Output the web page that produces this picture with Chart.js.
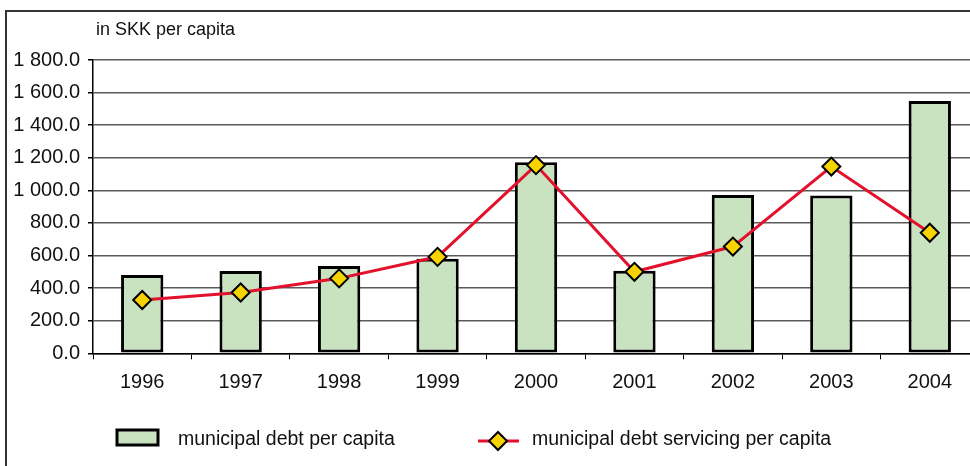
<!DOCTYPE html>
<html>
<head>
<meta charset="utf-8">
<script src="https://cdn.jsdelivr.net/npm/chart.js@4.4.1/dist/chart.umd.min.js"></script>
<style>
  html, body { margin: 0; padding: 0; background: #fff; overflow: hidden; }
  #wrap { width: 970px; height: 466px; overflow: hidden; position: relative; }
  canvas { display: block; }
</style>
</head>
<body>
<div id="wrap"><canvas id="chart" width="990" height="466"></canvas></div>
<script>
const years = ["1996", "1997", "1998", "1999", "2000", "2001", "2002", "2003", "2004"];
const debtPerCapita = [480, 505, 536, 580, 1172, 507, 971, 968, 1548];
const servicingPerCapita = [327, 373, 460, 592, 1155, 500, 655, 1146, 740];
const yTicks = [0, 200, 400, 600, 800, 1000, 1200, 1400, 1600, 1800];

const unitLabel = "in SKK per capita";
const FONT = "'Liberation Sans', Arial, sans-serif";
const BAR_FILL = "#c9e3c1";
const LINE_RED = "#e4112c";
const GOLD = "#f7d300";

function fmt(v) {
    const s = v.toFixed(1);
    const [i, d] = s.split(".");
    return i.replace(/\B(?=(\d{3})+(?!\d))/g, " ") + "." + d;
}

function diamond(ctx, x, y, r) {
    ctx.beginPath();
    ctx.moveTo(x, y - r);
    ctx.lineTo(x + r, y);
    ctx.lineTo(x, y + r);
    ctx.lineTo(x - r, y);
    ctx.closePath();
    ctx.fillStyle = GOLD;
    ctx.fill();
    ctx.lineWidth = 2;
    ctx.strokeStyle = "#000";
    ctx.stroke();
}

// frame, unit title and legend drawn by hand
const decor = {
    id: "decor",
    beforeDraw(chart) {
        const ctx = chart.ctx;
        ctx.save();
        ctx.fillStyle = "#fff";
        ctx.fillRect(0, 0, chart.width, chart.height);
        ctx.strokeStyle = "#333";
        ctx.lineWidth = 2;
        ctx.beginPath();
        ctx.moveTo(6, 470);
        ctx.lineTo(6, 11);
        ctx.lineTo(chart.width + 5, 11);
        ctx.stroke();
        ctx.restore();
    },
    afterDraw(chart) {
        const ctx = chart.ctx;
        const ds = chart.data.datasets;
        ctx.save();
        ctx.fillStyle = "#111";
        ctx.textBaseline = "alphabetic";
        ctx.font = "18px " + FONT;
        ctx.fillText(unitLabel, 96, 35);

        // bar entry
        ctx.fillStyle = BAR_FILL;
        ctx.fillRect(117, 430, 41, 15);
        ctx.lineWidth = 3;
        ctx.strokeStyle = "#000";
        ctx.strokeRect(117, 430, 41, 15);
        ctx.fillStyle = "#111";
        ctx.font = "19.5px " + FONT;
        ctx.fillText(ds[1].label, 178, 445);

        // line entry
        ctx.strokeStyle = LINE_RED;
        ctx.lineWidth = 3;
        ctx.beginPath();
        ctx.moveTo(478, 441);
        ctx.lineTo(519, 441);
        ctx.stroke();
        diamond(ctx, 498, 441, 9);
        ctx.fillStyle = "#111";
        ctx.fillText(ds[0].label, 532, 445);
        ctx.restore();
    }
};

new Chart(document.getElementById("chart"), {
    type: "bar",
    data: {
        labels: years,
        datasets: [
            {
                type: "line",
                label: "municipal debt servicing per capita",
                data: servicingPerCapita,
                borderColor: LINE_RED,
                borderWidth: 3,
                pointStyle: "rectRot",
                pointRadius: 9,
                pointBackgroundColor: GOLD,
                pointBorderColor: "#000",
                pointBorderWidth: 2,
                tension: 0,
                order: 0,
            },
            {
                label: "municipal debt per capita",
                data: debtPerCapita,
                backgroundColor: BAR_FILL,
                borderColor: "#000",
                borderWidth: 3,
                borderSkipped: false,
                barPercentage: 0.43,
                categoryPercentage: 1,
                order: 1,
            },
        ],
    },
    options: {
        responsive: false,
        animation: false,
        layout: { padding: { left: 0, right: 10, top: 60, bottom: 0 } },
        plugins: {
            legend: { display: false },
            tooltip: { enabled: false },
        },
        scales: {
            x: {
                afterFit: (s) => { s.height = 112.7; },
                grid: {
                    drawOnChartArea: false,
                    color: "#000",
                    tickLength: 6,
                    offset: true,
                },
                border: { color: "#000", width: 1.5 },
                ticks: {
                    color: "#111",
                    padding: 11,
                    font: { family: FONT, size: 20 },
                },
            },
            y: {
                min: 0,
                max: 1800,
                afterFit: (s) => { s.width = 93; },
                afterBuildTicks: (s) => { s.ticks = yTicks.map((v) => ({ value: v })); },
                grid: {
                    color: "#5a5a5a",
                    lineWidth: 1.5,
                    tickColor: "#000",
                    tickLength: 5,
                },
                border: { color: "#000", width: 1.5 },
                ticks: {
                    color: "#111",
                    padding: 8,
                    font: { family: FONT, size: 20 },
                    callback: (v) => fmt(v),
                },
            },
        },
    },
    plugins: [decor],
});
</script>
</body>
</html>
